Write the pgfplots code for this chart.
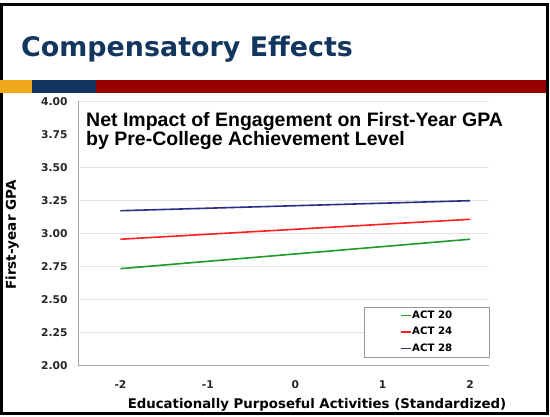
\documentclass[border=0pt]{standalone}
\usepackage{fontspec}
\setmainfont{DejaVu Sans}
\newfontfamily\arialfont{Liberation Sans}
\usepackage{pgfplots}
\pgfplotsset{compat=1.18}
\pgfplotsset{shortline legend/.style={legend image code/.code={\draw[##1] (0pt,0pt) -- (10pt,0pt);}}}
\definecolor{titleblue}{HTML}{13365F}
\definecolor{bargold}{HTML}{EFA91B}
\definecolor{barblue}{HTML}{11355F}
\definecolor{barred}{HTML}{990000}
\definecolor{actgreen}{HTML}{1E9A2A}
\definecolor{actred}{HTML}{FF2020}
\definecolor{actblue}{HTML}{2B2E85}
\definecolor{ticktext}{HTML}{262626}
\begin{document}
\begin{tikzpicture}[x=1pt,y=1pt]
\path[use as bounding box] (0,0) rectangle (550,417);
\fill[white] (0,0) rectangle (550,417);
\draw[black, line width=3pt] (1.5,3.5) rectangle (547.5,412.5);
\fill[bargold] (0,324) rectangle (32,337);
\fill[barblue] (32,324) rectangle (96,337);
\fill[barred] (96,324) rectangle (546,337);
\node[anchor=base west, inner sep=0, font=\fontsize{26.9}{30}\selectfont\bfseries, text=titleblue] at (21,360) {Compensatory Effects};
\begin{axis}[
  at={(78pt,51.7pt)}, anchor=south west,
  scale only axis, width=411pt, height=264pt,
  xmin=-2.486, xmax=2.217, ymin=2, ymax=4,
  axis lines=left,
  axis line style={-, color=gray!70, line width=0.8pt},
  major tick length=0pt,
  xtick={-2,-1,0,1,2},
  ytick={2,2.25,2.5,2.75,3,3.25,3.5,3.75,4},
  ymajorgrids,
  grid style={color=gray!22, line width=1pt},
  /pgf/number format/assume math mode=true,
  yticklabel style={/pgf/number format/fixed, /pgf/number format/fixed zerofill, /pgf/number format/precision=2, font=\fontsize{10.7}{12}\selectfont\bfseries, text=ticktext, anchor=east, xshift=-7pt},
  xticklabel style={font=\fontsize{10.7}{12}\selectfont\bfseries, text=ticktext, yshift=-12pt},
  xlabel={Educationally Purposeful Activities (Standardized)},
  ylabel={First-year GPA},
  every axis x label/.style={at={(axis description cs:0.5815,-0.162)}, anchor=base, font=\fontsize{13.3}{15}\selectfont\bfseries},
  every axis y label/.style={at={(axis description cs:-0.16,0.4935)}, rotate=90, anchor=center, font=\fontsize{13.5}{15}\selectfont\bfseries},
  shortline legend,
  legend style={at={(axis description cs:1,0.031)}, anchor=south east, draw=gray!80,
    inner xsep=36pt, inner ysep=3.5pt, row sep=6.5pt,
    font=\fontsize{10.2}{12}\selectfont\bfseries,
    nodes={inner xsep=0.5pt, inner ysep=0pt, text height=8pt, text depth=2pt}},
  legend cell align=left,
  clip=false,
]
\addplot[color=actgreen, line width=1.6pt] coordinates {(-2,2.732) (2,2.955)};
\addlegendentry{ACT 20}
\addplot[color=actred, line width=1.6pt] coordinates {(-2,2.955) (2,3.106)};
\addlegendentry{ACT 24}
\addplot[color=actblue, line width=1.6pt] coordinates {(-2,3.171) (2,3.247)};
\addlegendentry{ACT 28}
\end{axis}
\fill[white] (79.5,257) rectangle (489,312);
\node[anchor=base west, inner sep=0, font=\arialfont\fontsize{19.5}{22}\selectfont\bfseries] at (86,290) {Net Impact of Engagement on First-Year GPA};
\node[anchor=base west, inner sep=0, font=\arialfont\fontsize{19.5}{22}\selectfont\bfseries] at (86,271.5) {by Pre-College Achievement Level};
\end{tikzpicture}
\end{document}
